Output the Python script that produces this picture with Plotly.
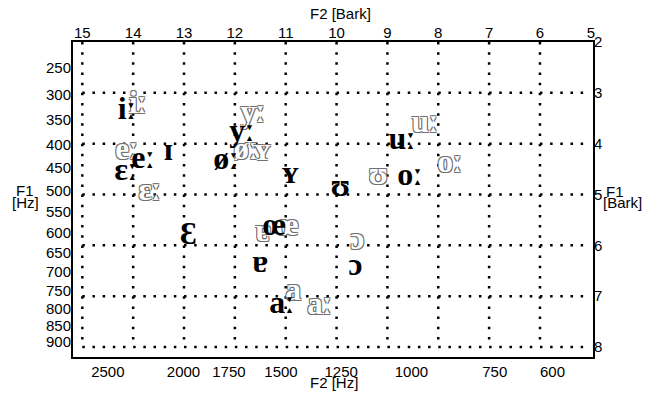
import plotly.graph_objects as go

# ---- data (formants in Hz) ----
black_vowels = ["iː", "eː", "ɪ", "ɛː", "yː", "øː", "ʏ", "ʊ", "uː", "oː", "Ɛ", "œ", "ɐ", "ɔ", "aː"]
black_f2_hz = [2360, 2250, 2091, 2367, 1682, 1764, 1459, 1253, 1030, 1004, 1972, 1530, 1595, 1196, 1494]
black_f1_hz = [333, 434, 417, 458, 376, 436, 465, 494, 392, 469, 607, 587, 678, 688, 789]

gray_vowels = ["iː", "eː", "ɛː", "yː", "øː", "ʏ", "uː", "ʊ", "oː", "ɐ", "œ", "ɔ", "a", "aː"]
gray_f2_hz = [2284, 2360, 2205, 1629, 1663, 1586, 955, 1113, 878, 1581, 1472, 1189, 1446, 1333]
gray_f1_hz = [322, 415, 505, 339, 415, 417, 359, 469, 443, 600, 587, 622, 756, 795]

f2_hz_ticks = [2500, 2000, 1750, 1500, 1250, 1000, 750, 600]
f1_hz_ticks = [250, 300, 350, 400, 450, 500, 550, 600, 650, 700, 750, 800, 850, 900]
f2_bark_ticks = [15, 14, 13, 12, 11, 10, 9, 8, 7, 6, 5]
f1_bark_ticks = [2, 3, 4, 5, 6, 7, 8]


def bark(f):
    # Traunmueller (1990) Hz -> Bark
    return 26.81 * f / (1960.0 + f) - 0.53


def ipa(label):
    # render the length mark with the triangle glyph of DejaVu Sans
    return label.replace(
        "ː", "<span style=\"font-family:'DejaVu Sans';font-size:30px;font-weight:normal\">ː</span>")


X_RANGE = [15.183, 4.957]
Y_RANGE = [8.197, 2.0]
SANS = "Liberation Sans, Arial, sans-serif"
SERIF = "Liberation Serif, DejaVu Serif, serif"
TICKFONT = dict(family=SANS, size=15, color="black")
GRAY = "#707070"

fig = go.Figure()

# grey (second set) vowels, drawn hollow
fig.add_trace(go.Scatter(
    x=[bark(v) for v in gray_f2_hz], y=[bark(v) for v in gray_f1_hz],
    mode="text", text=[ipa(v) for v in gray_vowels], textposition="middle center",
    textfont=dict(family=SERIF, size=31, color="white", weight="bold",
                  shadow="1px 1px 0 %s, -1px -1px 0 %s, 1px -1px 0 %s, -1px 1px 0 %s" % ((GRAY,) * 4)),
    cliponaxis=False, hoverinfo="skip", showlegend=False,
))
# black vowels
fig.add_trace(go.Scatter(
    x=[bark(v) for v in black_f2_hz], y=[bark(v) for v in black_f1_hz],
    mode="text", text=[ipa(v) for v in black_vowels], textposition="middle center",
    textfont=dict(family=SERIF, size=32, color="black", weight="bold"),
    cliponaxis=False, hoverinfo="skip", showlegend=False,
))
# invisible trace to activate the secondary (Bark) axes
fig.add_trace(go.Scatter(x=[X_RANGE[0]], y=[Y_RANGE[0]], xaxis="x2", yaxis="y2",
                         mode="markers", marker=dict(opacity=0), hoverinfo="skip",
                         showlegend=False))

# dotted Bark grid
DOTS = dict(color="black", width=2.5, dash="2.5px,7.67px")
for b in f2_bark_ticks[:-1]:
    fig.add_shape(type="line", x0=b, x1=b, y0=f1_bark_ticks[0], y1=f1_bark_ticks[-1],
                  xref="x", yref="y", line=DOTS, layer="below")
for b in f1_bark_ticks[1:]:
    fig.add_shape(type="line", x0=f2_bark_ticks[0], x1=f2_bark_ticks[-1], y0=b, y1=b,
                  xref="x", yref="y", line=DOTS, layer="below")

axis_common = dict(showgrid=False, zeroline=False, ticks="", tickfont=TICKFONT)

fig.update_layout(
    width=646, height=393,
    margin=dict(l=73, r=53, t=42, b=36),
    paper_bgcolor="white", plot_bgcolor="white",
    xaxis=dict(range=X_RANGE, tickmode="array",
               tickvals=[bark(v) for v in f2_hz_ticks], ticktext=[str(v) for v in f2_hz_ticks],
               showline=True, mirror=True, linecolor="black", linewidth=2, **axis_common),
    xaxis2=dict(range=X_RANGE, overlaying="x", side="top", tickmode="array",
                tickvals=f2_bark_ticks, ticktext=[str(v) for v in f2_bark_ticks],
                showline=False, **axis_common),
    yaxis=dict(range=Y_RANGE, tickmode="array",
               tickvals=[bark(v) for v in f1_hz_ticks], ticktext=[str(v) for v in f1_hz_ticks],
               showline=True, mirror=True, linecolor="black", linewidth=2,
               ticklabelstandoff=-3, **axis_common),
    yaxis2=dict(range=Y_RANGE, overlaying="y", side="right", tickmode="array",
                tickvals=f1_bark_ticks, ticktext=[str(v) for v in f1_bark_ticks],
                showline=False, **axis_common),
)

TITLEFONT = dict(family=SANS, size=15, color="black")
titles = [
    ("F2 [Bark]", 0.5135, 1.092),
    ("F2 [Hz]", 0.502, -0.0825),
    ("F1", -0.0923, 0.530),
    ("[Hz]", -0.0923, 0.492),
    ("F1", 1.042, 0.524),
    ("[Bark]", 1.056, 0.489),
]
for txt, xp, yp in titles:
    fig.add_annotation(text=txt, x=xp, y=yp, xref="paper", yref="paper",
                       xanchor="center", yanchor="middle", showarrow=False,
                       font=TITLEFONT)

fig.write_html("out.html", config={"displayModeBar": False},
               post_script="document.body.style.margin='0';document.body.style.padding='0';")
